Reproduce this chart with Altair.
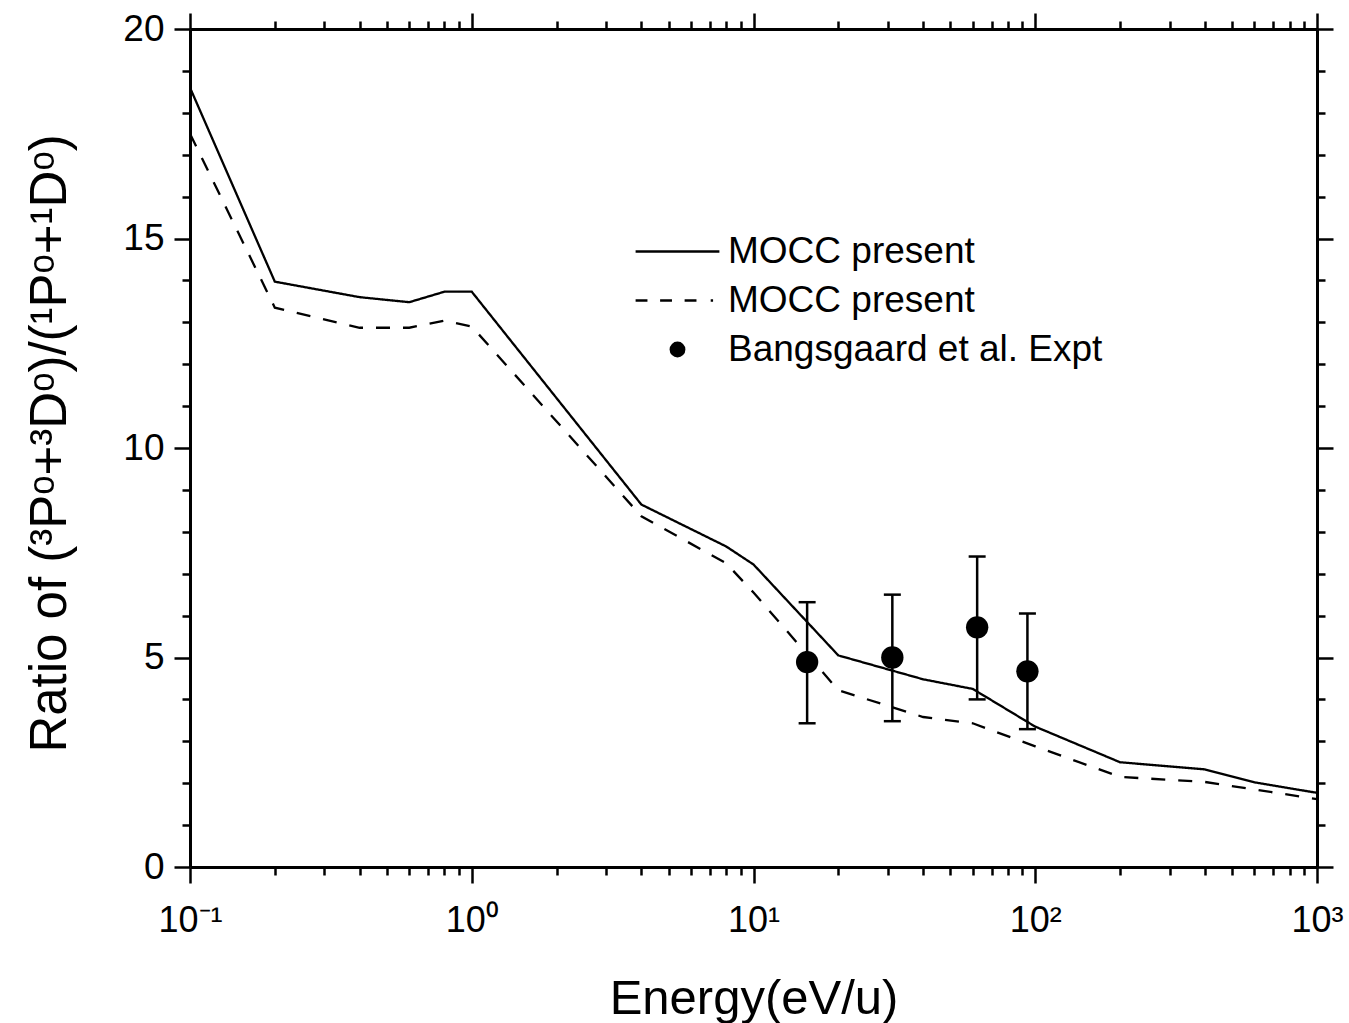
import json
import altair as alt
import pandas as pd

# ---------------- data ----------------
energy = [0.1, 0.2, 0.4, 0.6, 0.8, 1, 4, 8, 10, 20, 40, 60, 100, 200, 400, 600, 1000]
mocc_solid = [18.6, 13.97, 13.6, 13.48, 13.73, 13.73, 8.65, 7.65, 7.22, 5.05, 4.48, 4.25, 3.35, 2.5, 2.33, 2.02, 1.77]
mocc_dashed = [17.5, 13.35, 12.87, 12.87, 13.04, 12.9, 8.37, 7.25, 6.55, 4.22, 3.58, 3.43, 2.88, 2.15, 2.03, 1.85, 1.62]

expt_energy = [15.5, 31.1, 62.2, 93.8]
expt_ratio = [4.89, 5.0, 5.72, 4.67]
expt_low = [3.43, 3.48, 4.0, 3.29]
expt_high = [6.32, 6.5, 7.41, 6.05]

series_keys = ["solid", "dashed", "expt"]
series_labels = ["MOCC present", "MOCC present", "Bangsgaard et al. Expt"]

x_tick_values = [m * 10.0 ** d for d in range(-1, 3) for m in range(1, 10)] + [1000.0]
x_decade_labels = ["10⁻¹", "10⁰", "10¹", "10²", "10³"]
y_tick_values = list(range(0, 21))

x_title = "Energy(eV/u)"
y_title = "Ratio of (³Pᵒ+³Dᵒ)/(¹Pᵒ+¹Dᵒ)"

# ---------------- tables ----------------
line_df = pd.concat([
    pd.DataFrame({"energy": energy, "ratio": mocc_solid, "series": series_keys[0]}),
    pd.DataFrame({"energy": energy, "ratio": mocc_dashed, "series": series_keys[1]}),
], ignore_index=True)
expt_df = pd.DataFrame({"energy": expt_energy, "ratio": expt_ratio,
                        "low": expt_low, "high": expt_high, "series": series_keys[2]})

FONT = "Liberation Sans"
W, H = 1127, 838

xscale = alt.Scale(type="log", domain=[0.1, 1000], nice=False)
yscale = alt.Scale(domain=[0, 20], nice=False, zero=True)

dec = "log(datum.value)/LN10"
is_dec = f"abs({dec} - round({dec})) < 0.001"
x_label_expr = (f"({is_dec}) ? {json.dumps(x_decade_labels, ensure_ascii=False)}"
                f"[round({dec}) + 1] : ''")
x_tick_size = {"condition": {"test": is_dec, "value": 16}, "value": 8}
y_tick_size = {"condition": {"test": "datum.value % 5 === 0", "value": 16}, "value": 8}
y_label_expr = "datum.value % 5 === 0 ? datum.label : ''"

common = dict(domainColor="black", domainWidth=3, tickColor="black", tickWidth=2.5,
              grid=False, labelColor="black", labelFont=FONT, titleFont=FONT,
              titleColor="black", titleFontWeight="normal", offset=0)

bottom_axis = alt.Axis(orient="bottom", values=x_tick_values, labelExpr=x_label_expr,
                       tickSize=x_tick_size, labelFontSize=36, labelPadding=20,
                       labelOverlap=False, labelFlush=False, title=x_title,
                       titleFontSize=49, titleBaseline="alphabetic", titleY=146,
                       **common)
left_axis = alt.Axis(orient="left", values=y_tick_values, labelExpr=y_label_expr,
                     tickSize=y_tick_size, labelFontSize=37, labelPadding=10,
                     labelOverlap=False, labelFlush=False, title=y_title,
                     titleFontSize=51, titleBaseline="alphabetic", titleX=-125,
                     titleY=H / 2 - 5, titleAngle=270, titleAlign="center", **common)
top_axis = alt.Axis(orient="top", values=x_tick_values, labels=False,
                    tickSize=x_tick_size, title="", **common)
right_axis = alt.Axis(orient="right", values=y_tick_values, labels=False,
                      tickSize=y_tick_size, title="", **common)

legend_label_expr = (f"{json.dumps(series_labels)}"
                     f"[indexof({json.dumps(series_keys)}, datum.value)]")
legend = alt.Legend(title=None, orient="none", legendX=469, legendY=204,
                    labelFont=FONT, labelFontSize=37, labelColor="black",
                    labelOffset=32, labelLimit=800, rowPadding=11, symbolSize=250,
                    symbolStrokeWidth=2.5, symbolStrokeColor="black",
                    symbolFillColor="black", labelExpr=legend_label_expr, padding=0)

# legend glyphs (symbol shapes in unit space, scaled by Vega): a solid bar and a dashed bar
solid_glyph = "M-5.3,-0.17H5.3V0.17H-5.3Z"
dashed_glyph = ("M-5.3,-0.17H-3.8V0.17H-5.3Z"
                "M-2.2,-0.17H-0.7V0.17H-2.2Z"
                "M0.9,-0.17H2.4V0.17H0.9Z"
                "M4.2,-0.17H4.5V0.17H4.2Z")

lines = alt.Chart(line_df).mark_line(color="black", strokeWidth=2.3).encode(
    x=alt.X("energy:Q", scale=xscale, axis=bottom_axis),
    y=alt.Y("ratio:Q", scale=yscale, axis=left_axis),
    strokeDash=alt.StrokeDash("series:N",
                              scale=alt.Scale(domain=series_keys, range=[[1, 0], [14, 13], [1, 0]]),
                              legend=legend),
)

err = alt.Chart(expt_df).mark_rule(color="black", strokeWidth=2.5).encode(
    x=alt.X("energy:Q", scale=xscale, axis=None),
    y=alt.Y("low:Q", scale=yscale, axis=None),
    y2="high:Q",
)
cap_lo = alt.Chart(expt_df).mark_tick(color="black", orient="horizontal", size=17,
                                      thickness=2.5, opacity=1).encode(
    x=alt.X("energy:Q", scale=xscale, axis=None),
    y=alt.Y("low:Q", scale=yscale, axis=None),
)
cap_hi = alt.Chart(expt_df).mark_tick(color="black", orient="horizontal", size=17,
                                      thickness=2.5, opacity=1).encode(
    x=alt.X("energy:Q", scale=xscale, axis=None),
    y=alt.Y("high:Q", scale=yscale, axis=None),
)
pts = alt.Chart(expt_df).mark_point(filled=True, color="black", size=500, opacity=1).encode(
    x=alt.X("energy:Q", scale=xscale, axis=None),
    y=alt.Y("ratio:Q", scale=yscale, axis=None),
    shape=alt.Shape("series:N",
                    scale=alt.Scale(domain=series_keys, range=[solid_glyph, dashed_glyph, "circle"]),
                    legend=legend),
)
frame = alt.Chart(line_df).mark_point(opacity=0).encode(
    x=alt.X("energy:Q", scale=xscale, axis=top_axis),
    y=alt.Y("ratio:Q", scale=yscale, axis=right_axis),
)

chart = alt.layer(lines, err, cap_lo, cap_hi, pts, frame).resolve_axis(
    x="independent", y="independent"
).properties(
    width=W, height=H,
    autosize=alt.AutoSizeParams(type="none"),
    padding={"left": 190, "top": 29, "right": 32, "bottom": 156},
).configure_view(stroke=None)

chart.save("out.html", embed_options={"renderer": "svg", "actions": False})
